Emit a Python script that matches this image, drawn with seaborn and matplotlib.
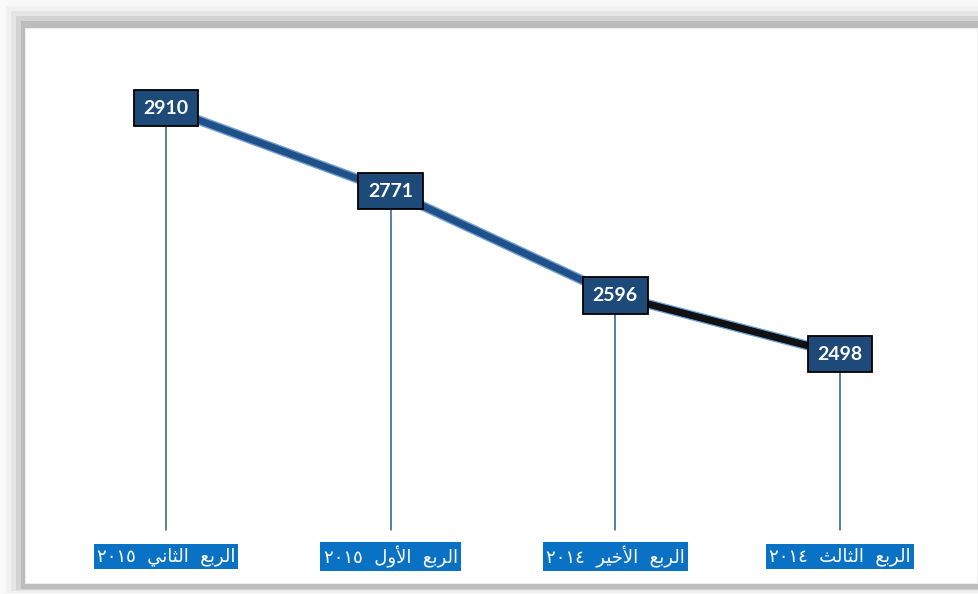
import matplotlib
matplotlib.use("Agg")
import matplotlib.pyplot as plt
import matplotlib.transforms as mtransforms
from matplotlib.patches import Rectangle
import seaborn as sns
import pandas as pd

sns.set_style("white")

# data (logical order, newest first)
quarters = ["الربع الثاني ٢٠١٥", "الربع الأول ٢٠١٥", "الربع الأخير ٢٠١٤", "الربع الثالث ٢٠١٤"]
values = [2910, 2771, 2596, 2498]

# tiny Arabic shaper: matplotlib has no shaping, so use presentation forms
DUAL = {'ب': (0xFE8F, 0xFE90, 0xFE91, 0xFE92), 'ت': (0xFE95, 0xFE96, 0xFE97, 0xFE98),
        'ث': (0xFE99, 0xFE9A, 0xFE9B, 0xFE9C), 'خ': (0xFEA5, 0xFEA6, 0xFEA7, 0xFEA8),
        'ع': (0xFEC9, 0xFECA, 0xFECB, 0xFECC), 'ل': (0xFEDD, 0xFEDE, 0xFEDF, 0xFEE0),
        'ن': (0xFEE5, 0xFEE6, 0xFEE7, 0xFEE8), 'ي': (0xFEF1, 0xFEF2, 0xFEF3, 0xFEF4)}
RIGHT = {'ا': (0xFE8D, 0xFE8E), 'أ': (0xFE83, 0xFE84), 'ر': (0xFEAD, 0xFEAE), 'و': (0xFEED, 0xFEEE)}
LAMALEF = {'ا': (0xFEFB, 0xFEFC), 'أ': (0xFEF7, 0xFEF8)}


def shape(word):
    out = []
    prev_joins = False
    i = 0
    while i < len(word):
        c = word[i]
        if c == 'ل' and i + 1 < len(word) and word[i + 1] in LAMALEF:
            out.append(chr(LAMALEF[word[i + 1]][1 if prev_joins else 0]))
            prev_joins = False
            i += 2
            continue
        nxt = i + 1 < len(word) and (word[i + 1] in DUAL or word[i + 1] in RIGHT)
        if c in RIGHT:
            out.append(chr(RIGHT[c][1 if prev_joins else 0]))
            prev_joins = False
        elif c in DUAL:
            if prev_joins and nxt:
                form = 3
            elif prev_joins:
                form = 1
            elif nxt:
                form = 2
            else:
                form = 0
            out.append(chr(DUAL[c][form]))
            prev_joins = nxt
        else:
            out.append(c)
            prev_joins = False
        i += 1
    return ''.join(out)


def visual(text):
    words = text.split(' ')
    parts = [w if w[0] in '٠١٢٣٤٥٦٧٨٩' else shape(w)[::-1] for w in words]
    return '  '.join(reversed(parts))


df = pd.DataFrame({"quarter": quarters, "value": values})
df["pos"] = range(len(df))

W, H = 979, 594
fig = plt.figure(figsize=(W / 100, H / 100), dpi=100)
fig.patch.set_facecolor("white")


def px_rect(x0, y0, x1, y1, color):
    # pixel box with top-left origin -> figure fraction
    fig.add_artist(Rectangle((x0 / W, 1 - y1 / H), (x1 - x0) / W, (y1 - y0) / H,
                             transform=fig.transFigure, facecolor=color,
                             edgecolor="none", zorder=0))


# soft shadow round the white panel
for off, col in [(0, "#f9f9f9"), (6, "#f1f1f1"), (11, "#e5e5e5"), (16, "#d3d3d3"), (21, "#bcbcbc")]:
    px_rect(off, off, W, 594 - off * 0.25, col)
px_rect(25, 28, 979, 584, "#eeeeee")
px_rect(26, 29, 977, 583, "white")

ax = fig.add_axes([0, 0, 1, 1])
ax.set_facecolor("none")
ax.set_xlim(-0.739, 3.619)
ax.set_ylim(2096, 3091)
ax.axis("off")

# drop lines from each point down to the category labels
trans = mtransforms.blended_transform_factory(ax.transData, ax.transAxes)
for p, v in zip(df["pos"], df["value"]):
    ax.plot([p, p], [0.108, ax.transAxes.inverted().transform(ax.transData.transform((p, v)))[1]],
            transform=trans, color="#2e5d8c", lw=1.1, zorder=1)

# main line with a light edge, last segment drawn dark
sns.lineplot(data=df, x="pos", y="value", ax=ax, color="#6f9fd6", lw=7, zorder=2)
sns.lineplot(data=df, x="pos", y="value", ax=ax, color="#1f5088", lw=5, zorder=3)
last = df.iloc[2:]
sns.lineplot(data=last, x="pos", y="value", ax=ax, color="#111111", lw=5, zorder=4)

for p, v in zip(df["pos"], df["value"]):
    ax.text(p, v, f"{v}", ha="center", va="center", color="white", fontsize=14,
            fontweight="bold", family="Lato", zorder=6,
            bbox=dict(boxstyle="square,pad=0.5", facecolor="#1d4a78", edgecolor="black", lw=1.3))

for p, q in zip(df["pos"], df["quarter"]):
    ax.text(p, 0.063, visual(q), ha="center", va="center", transform=trans,
            color="white", fontsize=13, family="DejaVu Sans", zorder=6,
            bbox=dict(boxstyle="square,pad=0.18", facecolor="#0a72c4", edgecolor="none"))

fig.savefig("out.png", dpi=100)
